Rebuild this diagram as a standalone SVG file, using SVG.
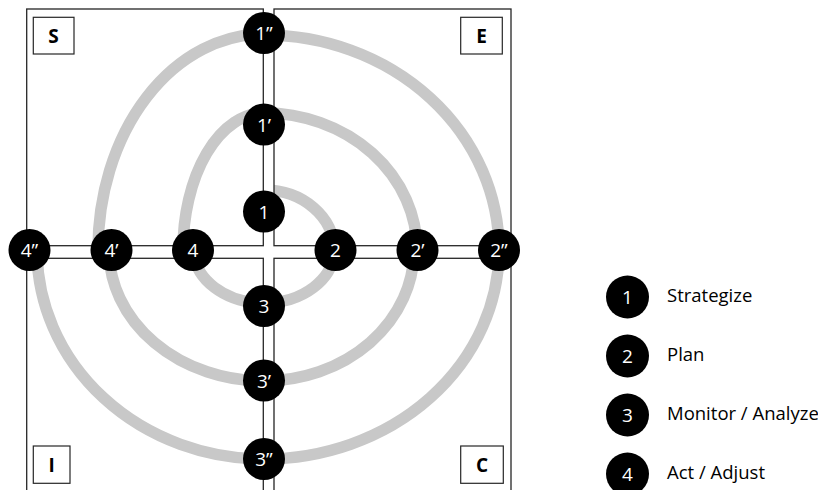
<svg xmlns="http://www.w3.org/2000/svg" width="818" height="490" viewBox="0 0 818 490">
<style>
.arc{fill:none;stroke:#c8c8c8;stroke-width:11.5}
.box{fill:none;stroke:#262626;stroke-width:1.3}
.lbl{fill:#fff;stroke:#262626;stroke-width:1.2}
.lt{font-family:"Open Sans","Noto Sans",sans-serif;font-weight:bold;font-size:19px;fill:#000;text-anchor:middle}
.nc{fill:#000}
.nt{font-family:"Open Sans","Noto Sans",sans-serif;font-size:19px;fill:#fff;text-anchor:middle}
.leg{font-family:"Open Sans","Noto Sans",sans-serif;font-size:18.5px;fill:#000}
</style>
<rect width="818" height="490" fill="#fff"/>
<g id="connectors">
<path class="arc" d="M264,190 A70,60 0 0 1 334,250"/>
<path class="arc" d="M334,250 A70,53 0 0 1 264,303"/>
<path class="arc" d="M264,303 A70,53 0 0 1 194,250"/>
<path class="arc" d="M183,250 A81,137 0 0 1 264,113"/>
<path class="arc" d="M264,113 A153,137 0 0 1 417,250"/>
<path class="arc" d="M414,250 A150,131 0 0 1 264,381"/>
<path class="arc" d="M264,381 A155,131 0 0 1 109,250"/>
<path class="arc" d="M98,250 A166,216 0 0 1 264,34"/>
<path class="arc" d="M264,35 A235,215 0 0 1 499,250"/>
<path class="arc" d="M499,250 A235,209 0 0 1 264,459"/>
<path class="arc" d="M264,459 A227,209 0 0 1 37,250"/>
</g>
<g id="corridor">
<rect x="263.5" y="0" width="10.5" height="490" fill="#fff"/>
<rect x="26" y="246" width="486" height="12" fill="#fff"/>
</g>
<g id="quadrants">
<rect class="box" x="26.7" y="9" width="236.6" height="236.7"/>
<rect class="box" x="274" y="9" width="237" height="236.7"/>
<rect class="box" x="26.7" y="258.3" width="236.6" height="250"/>
<rect class="box" x="274" y="258.3" width="237" height="250"/>
</g>
<g id="label-S"><rect class="lbl" x="33.3" y="17.3" width="40.7" height="36.7"/><text class="lt" x="53.6" y="42.5">S</text></g>
<g id="label-E"><rect class="lbl" x="460.7" y="17.3" width="41.6" height="36.7"/><text class="lt" x="481.5" y="42.5">E</text></g>
<g id="label-I"><rect class="lbl" x="33.3" y="446" width="36.7" height="37.3"/><text class="lt" x="51.6" y="471.5">I</text></g>
<g id="label-C"><rect class="lbl" x="460.7" y="446" width="42.6" height="37.3"/><text class="lt" x="482" y="471.5">C</text></g>
<g id="n1pp"><circle class="nc" cx="264" cy="33" r="21"/><text class="nt" x="264" y="40">1”</text></g>
<g id="n1p"><circle class="nc" cx="264" cy="124.5" r="21"/><text class="nt" x="264" y="131.5">1’</text></g>
<g id="n1"><circle class="nc" cx="264" cy="211.5" r="21"/><text class="nt" x="264" y="218.5">1</text></g>
<g id="n2"><circle class="nc" cx="335.5" cy="250" r="21"/><text class="nt" x="335.5" y="257">2</text></g>
<g id="n2p"><circle class="nc" cx="417.5" cy="250" r="21"/><text class="nt" x="417.5" y="257">2’</text></g>
<g id="n2pp"><circle class="nc" cx="499" cy="250" r="21"/><text class="nt" x="499" y="257">2”</text></g>
<g id="n3"><circle class="nc" cx="264" cy="306" r="21"/><text class="nt" x="264" y="313">3</text></g>
<g id="n3p"><circle class="nc" cx="264" cy="380.5" r="21"/><text class="nt" x="264" y="387.5">3’</text></g>
<g id="n3pp"><circle class="nc" cx="264" cy="459" r="21"/><text class="nt" x="264" y="466">3”</text></g>
<g id="n4"><circle class="nc" cx="193" cy="250" r="21"/><text class="nt" x="193" y="257">4</text></g>
<g id="n4p"><circle class="nc" cx="111.5" cy="250" r="21"/><text class="nt" x="111.5" y="257">4’</text></g>
<g id="n4pp"><circle class="nc" cx="29.5" cy="250" r="21"/><text class="nt" x="29.5" y="257">4”</text></g>
<g id="legend">
<g id="leg1"><circle class="nc" cx="627.5" cy="297" r="21.5"/><text class="nt" x="627.5" y="304">1</text><text class="leg" x="667" y="302">Strategize</text></g>
<g id="leg2"><circle class="nc" cx="627.5" cy="356" r="21.5"/><text class="nt" x="627.5" y="363">2</text><text class="leg" x="667" y="361">Plan</text></g>
<g id="leg3"><circle class="nc" cx="627.5" cy="415" r="21.5"/><text class="nt" x="627.5" y="422">3</text><text class="leg" x="667" y="420">Monitor / Analyze</text></g>
<g id="leg4"><circle class="nc" cx="627.5" cy="474" r="21.5"/><text class="nt" x="627.5" y="481">4</text><text class="leg" x="667" y="479">Act / Adjust</text></g>
</g>
</svg>
